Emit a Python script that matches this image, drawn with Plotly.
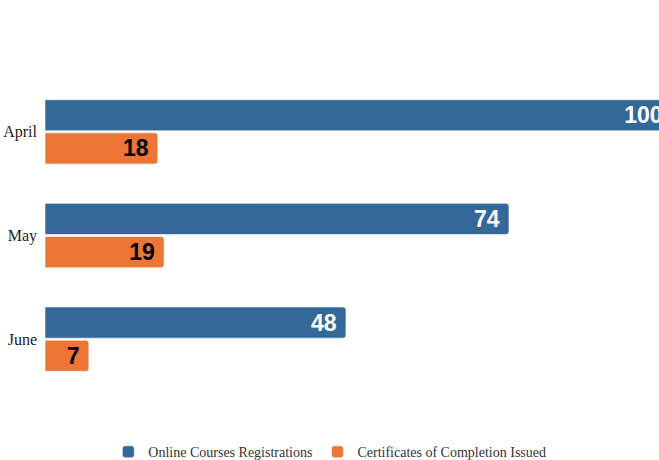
import plotly.graph_objects as go

months = ["April", "May", "June"]
registrations = [100, 74, 48]
certificates = [18, 19, 7]

blue = "#346899"
orange = "#ED7535"
label_font = "Liberation Sans, Arial"

fig = go.Figure()
fig.add_trace(go.Bar(
    y=months, x=registrations, orientation="h",
    name="Online Courses Registrations",
    marker=dict(color=blue, line=dict(color="rgba(255,255,255,0.6)", width=1)),
    text=registrations, texttemplate="%{x}\u00a0",
    textposition="inside", insidetextanchor="end", textangle=0,
    constraintext="none",
    textfont=dict(family=label_font, size=23, color="white", weight="bold"),
))
fig.add_trace(go.Bar(
    y=months, x=certificates, orientation="h",
    name="Certificates of Completion Issued",
    marker=dict(color=orange, line=dict(color="rgba(255,255,255,0.6)", width=1)),
    text=certificates, texttemplate="%{x}\u00a0",
    textposition="inside", insidetextanchor="end", textangle=0,
    constraintext="none",
    textfont=dict(family=label_font, size=23, color="black", weight="bold"),
))

fig.update_layout(
    width=690, height=460, autosize=False,
    margin=dict(l=45, r=18, t=80, b=69),
    paper_bgcolor="white", plot_bgcolor="white",
    barmode="group", bargap=0.36, bargroupgap=0.06,
    barcornerradius=3,
    uniformtext=dict(mode=False),
    font=dict(family="Liberation Serif, Times New Roman", color="#222"),
    xaxis=dict(range=[0, 100], visible=False, showgrid=False, zeroline=False),
    yaxis=dict(autorange="reversed", showgrid=False, zeroline=False,
               automargin=False,
               tickfont=dict(size=16, color="#222"), ticks="", ticklabelstandoff=7),
    legend=dict(orientation="h", x=0.101, xanchor="left",
                yref="container", y=0.017, yanchor="middle",
                font=dict(size=14, color="#333"), traceorder="normal"),
    showlegend=True,
)

fig.write_html("out.html")
